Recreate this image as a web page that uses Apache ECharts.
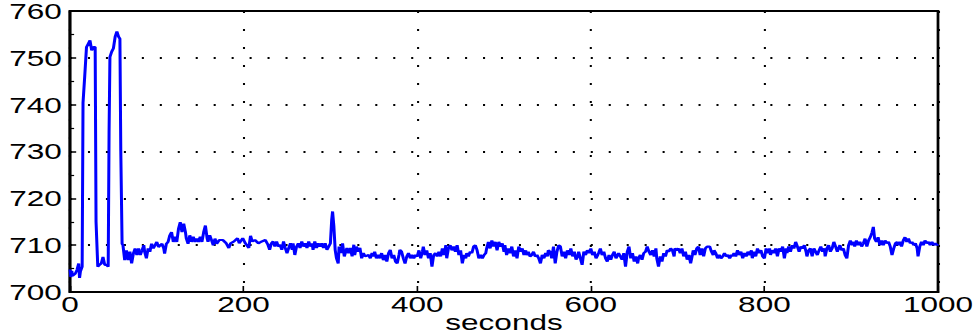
<!DOCTYPE html>
<html>
<head>
<meta charset="utf-8">
<script src="https://cdn.jsdelivr.net/npm/echarts@6/dist/echarts.min.js"></script>
<style>
html,body{margin:0;padding:0;background:#fff;overflow:hidden;}
#wrap{width:976px;height:335px;overflow:hidden;}
#chart{width:712px;height:335px;transform:scaleX(1.37078);transform-origin:0 0;}
</style>
</head>
<body>
<div id="wrap"><div id="chart"></div></div>
<script>
// x-axis ticks and y-axis ticks
var xTicks = [0, 200, 400, 600, 800, 1000];
var yTicks = [700, 710, 720, 730, 740, 750, 760];
var xLabel = 'seconds';

// readings: [seconds, value]
var startupReadings = [
[0,704.8],[1,703.2],[2,704.5],[3,703.5],[6,703.9],[8,704.7],[10,706.1],[11,703.0],[12,704.4],[14,705.4],
[15,740.4],[17,746.2],[19,752.3],[21,753.0],[23,753.7],[25,751.6],[27,752.3],[29,752.3],[30,715.0],[32,705.4],
[34,705.8],[36,706.1],[38,707.5],[40,705.8],[42,705.8],[44,705.4],[45,734.0],[46,750.2],[48,751.3],[50,752.0],
[52,754.5],[54,755.6],[56,754.5],[57.5,754.1],[58.5,730.2],[60,710.3],[61,710.0],[63,706.8],[65,708.9],[67,706.8],
[69,708.6],[71,706.1],[73,708.2],[75,709.3],[77,707.9],[79,709.3],[81,707.9],[83,708.9],[85,710.0],[86,708.6],
[88,707.2],[90,709.3],[92,708.6],[94,710.3],[96,709.3],[98,710.0],[100,710.7],[102,709.6],[104,710.0],[106,710.3],
[108,709.3],[109,708.2],[111,710.3],[113,710.7],[115,712.1],[117,712.8],[119,710.7],[121,711.8],[123,710.7],[125,713.5],
[127,714.9],[129,712.8],[131,714.6],[133,712.8],[134,711.4],[136,710.3],[138,712.1],[140,710.7],[142,711.8],[144,710.7],
[146,711.4],[148,710.7],[150,711.8],[152,710.7],[154,712.8],[156,714.2],[158,711.4],[159,710.7],[161,712.1],[163,711.1],
[165,710.0],[167,711.4],[169,710.3],[172,711.1],[176,711.1],[180,710.4],[183,709.4],[185,710.4],[189,710.8],[193,711.5],
[195,710.4],[199,711.5],[202,710.4],[206,709.4],[208,712.0],[210,710.8],[213,711.1],[217,710.4],[221,710.8]
];
var middleReadings = [
[225,711.1],[228,710.1],[230,709.0],[232,710.4],[234,710.8],[236,709.7],[238,710.8],[240,709.7],[242,710.1],[244,709.0],
[246,710.8],[248,709.4],[250,708.3],[252,709.4],[254,710.4],[256,709.0],[257,710.4],[259,707.9],[261,709.7],[263,710.4],
[265,709.4],[267,710.8],[269,709.7],[271,710.4],[273,709.4],[275,710.8],[277,709.7],[279,710.4],[280,709.0],[282,710.8],
[284,709.4],[286,710.4],[288,709.7],[290,710.4],[292,709.4],[294,710.4],[296,709.0],[298,709.7],[300,710.4],[301.5,715.4],
[302.5,717.2],[304,714.0],[305.5,709.0],[307,707.2],[309,706.1],[310,709.7],[312,708.3],[314,710.4],[316,707.6],[319,709.4],
[321,708.3],[323,709.4],[325,707.6],[327,710.1],[328,707.9],[330,709.7],[332,708.6],[334,709.4],[336,707.2],[338,708.3],
[340,707.6],[344,707.9],[346,707.2],[348,708.3],[350,707.6],[351,708.6],[353,707.2],[355,707.9],[357,707.2],[359,708.3],
[361,706.8],[363,707.9],[365,706.5],[367,708.3],[369,709.0],[371,707.2],[373,707.9],[375,706.5],[377,706.1],[379,707.9],
[380,709.0],[382,708.6],[384,707.2],[386,706.1],[388,707.6],[390,708.3],[392,707.2],[394,707.9],[396,707.2],[398,707.9],
[400,707.6],[402,708.9],[404,707.2],[406,708.6],[407,709.7],[409,707.9],[411,708.9],[413,707.2],[415,708.3],[417,705.4],
[419,707.9],[421,708.3],[423,707.6],[425,708.6],[427,707.6],[429,709.3],[431,707.9],[433,710.0],[434,707.2],[436,709.3],
[438,710.0],[440,708.9],[442,709.7],[444,708.6],[446,710.0],[448,707.9],[450,708.9],[452,706.1],[454,707.9],[456,707.2],
[457,708.3],[459,707.6],[461,708.6],[463,708.3],[465,709.7],[467,710.0],[469,708.9],[471,707.2],[473,707.9],[475,707.2],
[477,707.9],[479,708.3],[480,709.3],[482,710.7],[484,709.3],[486,711.0],[488,709.7],[490,710.7],[492,708.9],[494,710.7],
[496,709.7],[498,710.4],[500,708.6],[501,710.0],[503,707.9],[505,709.3],[507,708.3],[509,709.7],[511,707.6],[513,708.9],
[515,707.2],[517,709.7],[519,708.6],[521,709.3],[523,707.9],[525,708.9],[526,707.9],[528,708.6],[530,707.6],[532,707.9],
[534,708.6],[536,707.6],[538,707.9],[540,707.2],[542,706.1],[544,707.9],[546,707.2],[548,708.3],[550,707.6],[551,708.9],
[553,708.6],[555,707.2],[557,709.7],[559,706.1],[561,708.6],[563,710.0]
];
var lateReadings = [
[565,709.7],[567,707.6],[569,708.6],[571,707.2],[573,708.9],[575,707.9],[577,709.3],[579,707.6],[581,708.6],[583,706.9],
[585,707.6],[586,708.6],[588,707.2],[590,705.8],[592,708.6],[594,707.9],[596,708.9],[598,708.3],[600,709.3],[602,707.9],
[604,708.6],[606,707.2],[608,707.9],[609,708.3],[611,709.3],[613,707.9],[615,708.6],[617,707.2],[619,706.5],[621,707.9],
[623,706.9],[625,707.9],[627,708.6],[629,707.2],[631,707.9],[632,708.3],[634,707.6],[636,706.9],[638,708.3],[640,705.4],
[642,708.6],[644,709.7],[646,707.2],[648,708.3],[650,706.5],[652,707.6],[654,706.1],[655,707.2],[657,707.9],[659,706.9],
[661,708.3],[663,708.6],[665,709.7],[667,708.6],[669,707.9],[671,708.9],[673,707.6],[675,709.3],[676,707.2],[678,705.4],
[680,707.6],[682,706.5],[684,708.3],[686,707.6],[688,708.9],[690,708.6],[692,709.3],[694,708.9],[696,707.6],[697,709.3],
[699,708.9],[701,709.3],[703,708.3],[705,709.3],[707,707.6],[709,708.6],[711,706.9],[713,707.9],[715,706.1],[717,707.9],
[718,708.9],[720,707.9],[722,709.3],[724,709.7],[726,707.9],[728,709.3],[730,707.6],[732,709.3],[734,709.7],[737,709.7],
[739,708.6],[741,707.9],[742,708.9],[744,708.3],[746,707.2],[748,707.9],[750,707.2],[752,707.6],[754,708.3],[756,707.6],
[758,707.9],[760,707.2],[762,707.9],[763,707.6],[765,708.3],[767,707.6],[769,708.9],[771,707.9],[773,708.6],[775,707.2],
[777,708.3],[779,707.6],[781,708.6],[783,707.9],[785,708.9],[786,707.2],[788,708.6],[790,707.6],[792,709.3],[794,708.3],
[796,708.9],[798,707.6],[800,707.2],[802,709.3],[804,708.3],[806,709.3],[807,707.9],[809,708.9],[811,708.3],[813,709.3],
[815,707.6],[817,709.3],[819,708.6],[821,709.7],[823,707.2],[825,709.3],[826,708.3],[828,709.7],[830,708.6],[832,710.0],
[834,709.3],[836,710.7],[838,709.7],[840,708.6],[842,709.7],[844,709.3],[846,710.0],[848,708.6],[849,707.6],[851,708.9],
[853,709.3],[855,707.6],[857,709.3],[859,708.6],[861,707.9],[863,708.9],[865,709.7],[867,708.6],[869,709.3],[870,707.6],
[872,709.3],[874,710.0],[876,708.6],[878,709.3],[880,710.7],[882,709.7],[884,708.6],[887,710.0],[889,708.9],[891,709.3],
[893,707.9],[895,707.2],[897,710.0],[899,711.0],[901,710.0],[903,710.7],[904,709.7],[906,711.0],[908,710.0],[910,710.7],
[912,709.7],[914,710.4],[916,711.4],[918,709.7],[920,711.0],[922,711.7],[924,712.7],[925.5,713.9],[927,711.4],[929,710.7],
[931,711.7],[933,710.0],[935,711.0],[937,710.0],[939,711.0],[941,710.4],[943,710.7],[945,709.7],[947,707.9],[949,709.3],
[951,710.4],[953,710.7],[954,710.0],[956,710.7],[958,709.7],[960,711.0],[962,711.7],[964,710.7],[966,711.4],[968,710.4],
[970,710.7],[972,710.0],[974,710.4],[976,709.3],[977,707.6],[979,709.7],[981,710.7],[983,710.0],[985,711.0],[987,710.4],
[989,710.7],[991,710.0],[993,710.7],[995,710.0],[997,710.4],[999,710.0],[1000,710.2]
];

var series1 = startupReadings.concat(middleReadings, lateReadings);

var chart = echarts.init(document.getElementById('chart'), null, {renderer: 'svg'});
var font = 'Liberation Sans, Arial, sans-serif';
chart.setOption({
  animation: false,
  backgroundColor: '#fff',
  grid: {left: 51.07, right: 27.72, top: 11, bottom: 43, show: true, borderColor: '#000', borderWidth: 2,
         backgroundColor: 'transparent', containLabel: false, outerBoundsMode: 'none'},
  xAxis: {
    type: 'value',
    min: xTicks[0], max: xTicks[xTicks.length - 1], interval: xTicks[1] - xTicks[0],
    name: xLabel, nameLocation: 'middle', nameGap: 21, nameMoveOverlap: false,
    nameTextStyle: {fontFamily: font, fontSize: 23, color: '#000', lineHeight: 18},
    axisLine: {show: true, onZero: false, lineStyle: {color: '#000', width: 2}},
    axisTick: {show: true, inside: true, length: 6, lineStyle: {color: '#000', width: 1.2}},
    axisLabel: {fontFamily: font, fontSize: 23, color: '#000', margin: 2, lineHeight: 20, formatter: function (v) { return String(v); }},
    splitLine: {show: true, lineStyle: {color: '#000', width: 1.5, type: [2, 16]}}
  },
  yAxis: {
    type: 'value',
    min: yTicks[0], max: yTicks[yTicks.length - 1], interval: yTicks[1] - yTicks[0],
    axisLine: {show: true, lineStyle: {color: '#000', width: 2}},
    axisTick: {show: true, inside: true, length: 4.5, lineStyle: {color: '#000', width: 1.5}},
    minorTick: {show: true, splitNumber: 2, length: 3, lineStyle: {color: '#000', width: 1.2}},
    axisLabel: {fontFamily: font, fontSize: 23, color: '#000', margin: 6, lineHeight: 16, padding: [4, 0, 0, 0]},
    splitLine: {show: true, lineStyle: {color: '#000', width: 2, type: [1.5, 11.6]}}
  },
  series: [{
    type: 'line',
    data: series1,
    showSymbol: false,
    symbol: 'none',
    lineStyle: {color: '#0000ff', width: 2.2},
    z: 3
  }]
});
</script>
</body>
</html>
